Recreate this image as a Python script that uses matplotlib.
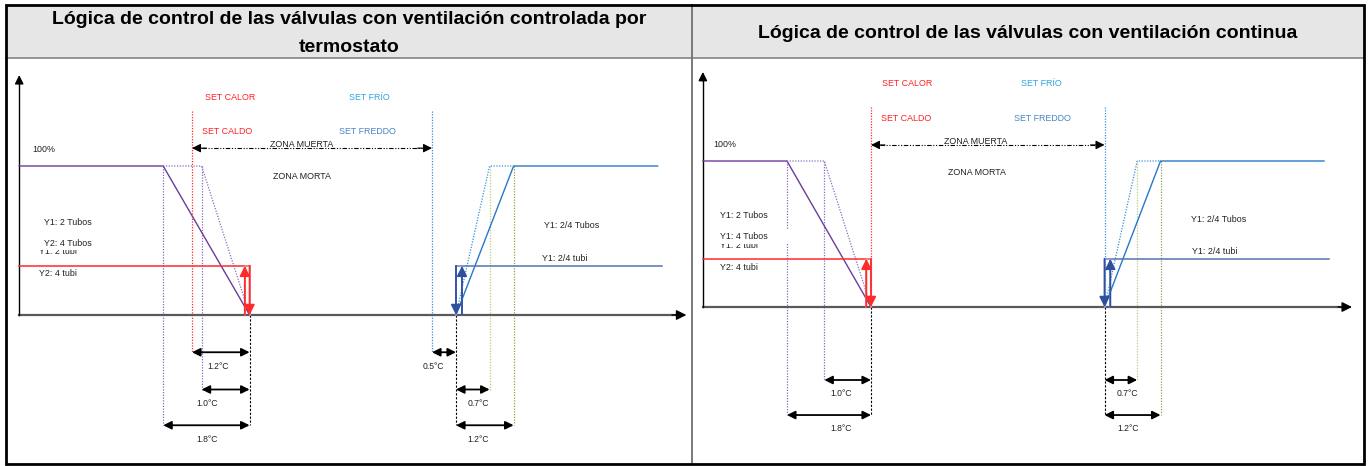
import matplotlib
matplotlib.use("Agg")
import matplotlib.pyplot as plt
from matplotlib.patches import Rectangle

# ---------------- data ----------------
titles = ["Lógica de control de las válvulas con ventilación controlada por\ntermostato",
          "Lógica de control de las válvulas con ventilación continua"]
dead_zone = [5.0, 5.0]            # °C between SET CALOR and SET FRÍO
heat_valve_offset = [1.2, 0.0]    # on/off point above SET CALOR
heat_ramp_dotted = [1.0, 1.0]
heat_ramp_solid = [1.8, 1.8]
cool_valve_offset = [0.5, 0.0]    # on/off point above SET FRÍO
cool_ramp_dotted = [0.7, 0.7]
cool_ramp_solid = [1.2, 1.2]
full_level = 100                  # %
onoff_level = 33                  # %
heat_labels = [["Y1: 2 Tubos", "Y2: 4 Tubos", "Y1: 2 tubi", "Y2: 4 tubi"],
               ["Y1: 2 Tubos", "Y1: 4 Tubos", "Y1: 2 tubi", "Y2: 4 tubi"]]
cool_labels = ["Y1: 2/4 Tubos", "Y1: 2/4 tubi"]
set_labels = ["SET CALOR", "SET CALDO", "SET FRÍO", "SET FREDDO"]
zone_labels = ["ZONA MUERTA", "ZONA MORTA"]
pct_label = "100%"

# ---------------- layout ----------------
W, H = 1370, 466
FONT = ["Liberation Sans Narrow", "Liberation Sans", "DejaVu Sans"]
plt.rcParams["font.family"] = FONT

fig = plt.figure(figsize=(W / 100, H / 100), dpi=100)
bg = fig.add_axes([0, 0, 1, 1])
bg.set_xlim(0, W)
bg.set_ylim(H, 0)
bg.axis("off")

# frame and header
bg.add_patch(Rectangle((6, 5), 1358, 53, facecolor="#E6E6E6", edgecolor="none", zorder=0))
bg.plot([6, 1364], [58, 58], color="#8C8C8C", lw=1.3, zorder=1)
bg.plot([692, 692], [5, 464], color="#707070", lw=1.3, zorder=1)
bg.add_patch(Rectangle((6, 5), 1358, 459, facecolor="none", edgecolor="black", lw=2.0, zorder=2))
bg.text(349, 20, titles[0].split("\n")[0], ha="center", va="center", fontsize=14,
        fontweight="bold", color="black")
bg.text(349, 47, titles[0].split("\n")[1], ha="center", va="center", fontsize=14,
        fontweight="bold", color="black")
bg.text(1028, 34, titles[1], ha="center", va="center", fontsize=14, fontweight="bold",
        color="black")

# per-panel pixel mapping: (panel left, right, top, bottom, px of T=0, px per °C, px of 0 %, px per %)
geo = [(8, 690, 60, 462, 192, 48.0, 315, 1.49),
       (694, 1362, 60, 462, 871, 46.7, 307, 1.46)]
ax_origin = -3.6
axis_end = 10.3
line_end = 9.7
onoff_end = 9.8
axis_top = 161
set_top = 137
rows = [-25, -50, -74]
lab_dy = 9.5
# text positions per panel (°C, %)
txt = [
    dict(calor=(0.80, 146), caldo=(0.73, 123), frio=(3.69, 146), freddo=(3.65, 123),
         zm=(2.29, 114.5), zline=112, zmo=(2.29, 93), pct=(-3.33, 111),
         hl=[(-3.08, 62), (-3.08, 48), (-3.19, 42.3), (-3.19, 28)], mask=43.4,
         cl=[(7.33, 60), (7.29, 38)],
         hdimx=[0.54, 0.31, 0.31], cdimx=[5.02, 5.96, 5.96]),
    dict(calor=(0.77, 153), caldo=(0.75, 129), frio=(3.64, 153), freddo=(3.68, 129),
         zm=(2.25, 113.5), zline=111, zmo=(2.27, 92), pct=(-3.38, 111),
         hl=[(-3.23, 63), (-3.23, 48), (-3.23, 42.0), (-3.23, 27)], mask=43.2,
         cl=[(6.85, 60), (6.87, 38)],
         hdimx=[0.0, -0.64, -0.64], cdimx=[0.0, 5.48, 5.5]),
]

PURPLE = "#6A3D9A"
PURPLE_DOT = "#8C6BC0"
BLUE = "#2678C8"
BLUE_DOT = "#3C90DA"
RED = "#FF2A2A"
RED_LIGHT = "#F08A8A"
STEEL = "#5672B4"
DBLUE = "#2F4F9F"
GREEN1 = "#B9CD7E"
GREEN2 = "#8DA63E"
SETRED = "#FF2020"
FRIO = "#2AA6E0"
FREDDO = "#4A84C4"
TXT = "#222222"
fs = 6.4
DOT = (0, (1, 1.2))


def arrow(ax, p0, p1, color, style="-|>", lw=1.0, ms=10, z=4):
    ax.annotate("", xy=p1, xytext=p0,
                arrowprops=dict(arrowstyle=style, color=color, lw=lw, mutation_scale=ms,
                                shrinkA=0, shrinkB=0), annotation_clip=False, zorder=z)


for i in range(2):
    pl, pr, pt, pb, x0, sx, y0, sy = geo[i]
    ax = fig.add_axes([pl / W, 1 - pb / H, (pr - pl) / W, (pb - pt) / H])
    ax.set_xlim((pl - x0) / sx, (pr - x0) / sx)
    ax.set_ylim((y0 - pb) / sy, (y0 - pt) / sy)
    ax.axis("off")
    ax.patch.set_alpha(0)
    t = txt[i]

    T_h = 0.0
    T_c = T_h + dead_zone[i]
    hv = T_h + heat_valve_offset[i]
    h_dot = hv - heat_ramp_dotted[i]
    h_sol = hv - heat_ramp_solid[i]
    cv = T_c + cool_valve_offset[i]
    c_dot = cv + cool_ramp_dotted[i]
    c_sol = cv + cool_ramp_solid[i]

    # axes
    ax.plot([ax_origin, axis_end - 0.2], [0, 0], color="#5A5A5A", lw=1.6, zorder=3)
    arrow(ax, (axis_end - 0.3, 0), (axis_end, 0), "black", lw=1.0, ms=15)
    ax.plot([ax_origin, ax_origin], [0, axis_top - 4], color="black", lw=1.0, zorder=3)
    arrow(ax, (ax_origin, axis_top - 6), (ax_origin, axis_top), "black", lw=1.0, ms=13)

    # set lines
    hs_bottom = rows[0] if heat_valve_offset[i] > 0 else 0
    cs_bottom = rows[0] if cool_valve_offset[i] > 0 else 0
    ax.plot([T_h, T_h], [set_top, hs_bottom], color=RED, lw=0.9, ls=DOT, zorder=2)
    ax.plot([T_c, T_c], [set_top, cs_bottom], color=BLUE_DOT, lw=0.9, ls=DOT, zorder=2)

    # heating curves
    ax.plot([ax_origin, h_sol, hv], [full_level, full_level, 0], color=PURPLE, lw=1.0, zorder=3)
    ax.plot([h_sol, h_dot, hv], [full_level, full_level, 0], color=PURPLE_DOT, lw=0.9, ls=DOT, zorder=3)
    ax.plot([h_sol, h_sol], [full_level, rows[2]], color=PURPLE_DOT, lw=0.9, ls=DOT, zorder=2)
    ax.plot([h_dot, h_dot], [full_level, rows[1]], color=PURPLE_DOT, lw=0.9, ls=DOT, zorder=2)
    ax.plot([hv, hv], [0, rows[2]], color="black", lw=0.8, ls=(0, (2, 1.5)), zorder=2)

    # cooling curves
    ax.plot([cv, c_sol, line_end], [0, full_level, full_level], color=BLUE, lw=1.0, zorder=3)
    ax.plot([cv, c_dot, c_sol], [0, full_level, full_level], color=BLUE_DOT, lw=0.9, ls=DOT, zorder=3)
    ax.plot([c_dot, c_dot], [full_level, rows[1]], color=GREEN1, lw=0.9, ls=DOT, zorder=2)
    ax.plot([c_sol, c_sol], [full_level, rows[2]], color=GREEN2, lw=0.9, ls=DOT, zorder=2)
    ax.plot([cv, cv], [0, rows[2]], color="black", lw=0.8, ls=(0, (2, 1.5)), zorder=2)

    # on/off heating (red)
    hw = 0.1
    ax.plot([ax_origin, hv], [onoff_level, onoff_level], color=RED, lw=1.1, zorder=3)
    ax.plot([hv - hw, hv - hw, hv, hv], [0, onoff_level, onoff_level, 0], color=RED_LIGHT, lw=1.2, zorder=3)
    arrow(ax, (hv - hw, 0), (hv - hw, onoff_level), RED, lw=1.3, ms=15, z=5)
    arrow(ax, (hv, onoff_level), (hv, 0), RED, lw=1.3, ms=15, z=5)

    # on/off cooling (blue)
    cw = 0.125
    ax.plot([cv, onoff_end], [onoff_level, onoff_level], color=STEEL, lw=1.1, zorder=3)
    ax.plot([cv, cv, cv + cw, cv + cw], [0, onoff_level, onoff_level, 0], color="#8EA0D0", lw=1.2, zorder=3)
    arrow(ax, (cv, onoff_level), (cv, 0), DBLUE, lw=1.3, ms=15, z=5)
    arrow(ax, (cv + cw, 0), (cv + cw, onoff_level), DBLUE, lw=1.3, ms=15, z=5)

    # dead zone arrow
    ax.plot([T_h + 0.2, T_c - 0.2], [t["zline"], t["zline"]], color="black", lw=0.8,
            ls=(0, (4, 1.5, 1, 1.5, 1, 1.5)), zorder=3)
    arrow(ax, (T_h + 0.3, t["zline"]), (T_h, t["zline"]), "black", lw=0.8, ms=13)
    arrow(ax, (T_c - 0.3, t["zline"]), (T_c, t["zline"]), "black", lw=0.8, ms=13)
    ax.text(*t["zm"], zone_labels[0], ha="center", va="center", fontsize=fs, color=TXT, zorder=6)
    ax.text(*t["zmo"], zone_labels[1], ha="center", va="center", fontsize=fs, color=TXT, zorder=6)

    # set labels
    ax.text(*t["calor"], set_labels[0], ha="center", va="center", fontsize=fs, color=SETRED)
    ax.text(*t["caldo"], set_labels[1], ha="center", va="center", fontsize=fs, color=SETRED)
    ax.text(*t["frio"], set_labels[2], ha="center", va="center", fontsize=fs, color=FRIO)
    ax.text(*t["freddo"], set_labels[3], ha="center", va="center", fontsize=fs, color=FREDDO)
    ax.text(*t["pct"], pct_label, ha="left", va="center", fontsize=fs, color=TXT)

    # heating labels (third one partly hidden under the second)
    hl = t["hl"]
    ax.text(*hl[0], heat_labels[i][0], ha="left", va="center", fontsize=fs, color=TXT, zorder=6)
    ax.text(*hl[2], heat_labels[i][2], ha="left", va="center", fontsize=fs, color=TXT, zorder=4)
    ax.add_patch(Rectangle((hl[2][0] - 0.1, t["mask"]), 1.6, 10, facecolor="white",
                           edgecolor="none", zorder=5))
    ax.text(*hl[1], heat_labels[i][1], ha="left", va="center", fontsize=fs, color=TXT, zorder=6)
    ax.text(*hl[3], heat_labels[i][3], ha="left", va="center", fontsize=fs, color=TXT, zorder=6)
    ax.text(*t["cl"][0], cool_labels[0], ha="left", va="center", fontsize=fs, color=TXT)
    ax.text(*t["cl"][1], cool_labels[1], ha="left", va="center", fontsize=fs, color=TXT)

    # dimension arrows
    hdims = [(T_h, hv, rows[0], heat_valve_offset[i]),
             (h_dot, hv, rows[1], heat_ramp_dotted[i]),
             (h_sol, hv, rows[2], heat_ramp_solid[i])]
    cdims = [(T_c, cv, rows[0], cool_valve_offset[i]),
             (cv, c_dot, rows[1], cool_ramp_dotted[i]),
             (cv, c_sol, rows[2], cool_ramp_solid[i])]
    for dims, lx in ((hdims, t["hdimx"]), (cdims, t["cdimx"])):
        for (a, b, r, v), x in zip(dims, lx):
            if v <= 0:
                continue
            arrow(ax, (a, r), (b, r), "black", style="<|-|>", lw=1.3, ms=12)
            ax.text(x, r - lab_dy, f"{v:.1f}°C", ha="center", va="center", fontsize=fs - 0.2, color=TXT)

fig.savefig("out.png", dpi=100)
